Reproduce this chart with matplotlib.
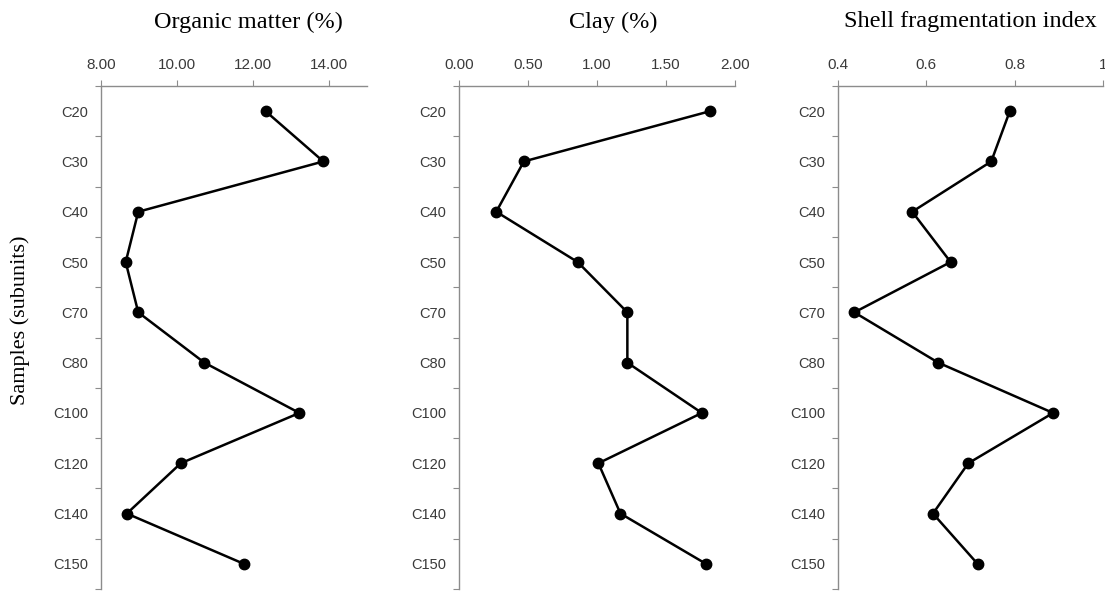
import matplotlib
matplotlib.use('Agg')
import matplotlib.pyplot as plt
import numpy as np

samples = ['C20', 'C30', 'C40', 'C50', 'C70', 'C80', 'C100', 'C120', 'C140', 'C150']
organic = [12.33, 13.85, 8.98, 8.65, 8.98, 10.72, 13.22, 10.10, 8.68, 11.76]
clay = [1.82, 0.47, 0.27, 0.86, 1.22, 1.22, 1.76, 1.01, 1.17, 1.79]
shell = [0.789, 0.747, 0.568, 0.655, 0.437, 0.627, 0.887, 0.695, 0.615, 0.716]

titles = ['Organic matter (%)', 'Clay (%)', 'Shell fragmentation index']
xticks = [[8, 10, 12, 14], [0, 0.5, 1.0, 1.5, 2.0], [0.4, 0.6, 0.8, 1.0]]
xlabels = [['8.00', '10.00', '12.00', '14.00'],
           ['0.00', '0.50', '1.00', '1.50', '2.00'],
           ['0.4', '0.6', '0.8', '1']]
xlims = [(8, 15), (0, 2), (0.4, 1)]
series = [organic, clay, shell]

W, H = 1105, 593
fig = plt.figure(figsize=(W / 100, H / 100), dpi=100)

# axes boxes in pixels: left, right
boxes = [(101, 367), (459, 735), (838, 1103)]
top, bottom = 86, 589
title_x = [248, 613, 970]

ypos = np.arange(len(samples)) + 0.5
axcol = '#8c8c8c'
txtcol = '#3a3a3a'

for i in range(3):
    l, r = boxes[i]
    ax = fig.add_axes([l / W, 1 - bottom / H, (r - l) / W, (bottom - top) / H])
    ax.plot(series[i], ypos, color='black', lw=1.8, marker='o', ms=7.5,
            clip_on=False, zorder=3)
    ax.set_xlim(*xlims[i])
    ax.set_ylim(len(samples), 0)
    ax.xaxis.tick_top()
    ax.set_xticks(xticks[i])
    ax.set_xticklabels(xlabels[i], fontsize=11, color=txtcol,
                       family='Liberation Sans')
    ax.set_yticks(np.arange(len(samples) + 1))
    ax.set_yticklabels([])
    ax.set_yticks(ypos, minor=True)
    ax.set_yticklabels(samples, minor=True, fontsize=10.5, color=txtcol,
                       family='Liberation Sans')
    ax.tick_params(axis='y', which='minor', length=0, pad=9)
    ax.tick_params(axis='y', which='major', length=4, color=axcol, direction='out')
    ax.tick_params(axis='x', length=4, color=axcol, direction='out', pad=6)
    for s in ['right', 'bottom']:
        ax.spines[s].set_visible(False)
    for s in ['left', 'top']:
        ax.spines[s].set_color(axcol)
        ax.spines[s].set_linewidth(1.0)
    fig.text(title_x[i] / W, 1 - 22 / H, titles[i], ha='center', va='center',
             fontsize=17.5, family='Liberation Serif')

fig.text(20 / W, 1 - 320 / H, 'Samples (subunits)', rotation=90, ha='center',
         va='center', fontsize=16, family='Liberation Serif')

fig.savefig('out.png', dpi=100)
